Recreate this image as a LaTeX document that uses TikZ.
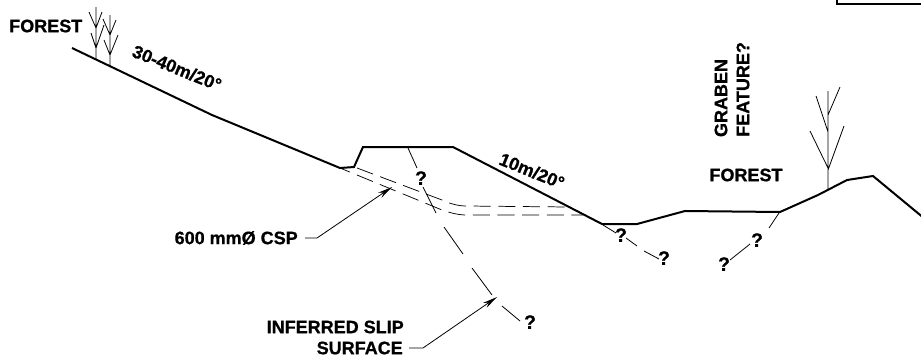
\documentclass[tikz,border=0pt]{standalone}
\usepackage{fontspec}
\setmainfont{Liberation Sans}[BoldFeatures={FakeBold=0.8}]
\usetikzlibrary{arrows.meta}
\begin{document}
\begin{tikzpicture}[x=0.75pt,y=-0.75pt,
  ground/.style={line width=1.5pt,line join=miter},
  thin line/.style={line width=0.6pt},
  pipe/.style={line width=0.55pt,dash pattern=on 12.8pt off 5.7pt},
  leader/.style={line width=0.6pt,-{Stealth[length=11pt,width=4.5pt]}},
  lbl/.style={font=\bfseries\fontsize{13.5}{15}\selectfont,inner sep=0pt,text=black},
  qm/.style={font=\bfseries\fontsize{14.5}{15}\selectfont,inner sep=0pt}]
\useasboundingbox (0,0) rectangle (921,358);
\clip (0,0) rectangle (921,358);
% ground
\draw[ground] (72,48) -- (212,115) -- (340,168) -- (354,167) -- (363,147) -- (453,147) -- (602,224) -- (637,224) -- (685,211) -- (780,212) -- (818,195) -- (847,180) -- (873,176) -- (925,219);
% title box corner
\draw[line width=0.8pt] (837,-5) -- (837,4) -- (925,4);
% trees
\draw[thin line] (96,60) -- (96,7) (89,12) -- (96,28) -- (102,12) (91,33) -- (96,48) -- (104,25);
\draw[thin line] (110,66) -- (110,15) (103,19) -- (110,35) -- (116,20) (104,40) -- (110,55) -- (118,35);
\draw[thin line] (828,190) -- (828,91) (828,115) -- (840,87) (828,132) -- (816,96) (828,168) -- (810,131) (828,170) -- (844,126);
% pipe
\draw[pipe] (357,168) -- (442,200) .. controls (451,204) and (458,206) .. (467,206) -- (569,207);
\draw[pipe,dash phase=4.7pt] (340,168) -- (442,210) .. controls (451,213) and (458,215) .. (467,215) -- (583,215);
% slip surface
\draw[thin line] (408,148) -- (417,168) (423,187) -- (436,213) (444,227) -- (463,254) (472,268) -- (492,295) (502,306) -- (520,321);
\draw[thin line] (603,225) -- (616,233) (626,238) -- (637,246) (644,251) -- (659,259);
\draw[thin line] (779,213) -- (769,228) (750,244) -- (730,260);
% labels
\node[lbl,anchor=west] (f1) at (9,26) {FOREST};
\node[lbl,rotate=-22,anchor=center] (s1) at (177,68) {30-40m/20°};
\node[lbl,rotate=-22,anchor=center] (s2) at (532,171) {10m/20°};
\node[lbl,anchor=east] (csp) at (298,238) {600 mmØ CSP};
\node[lbl,anchor=east] (slip1) at (404,327) {INFERRED SLIP};
\node[lbl,anchor=east] (slip2) at (403,348) {SURFACE};
\node[lbl,anchor=center] (f2) at (746,175) {FOREST};
\node[lbl,rotate=90,anchor=center] (g1) at (721,98) {GRABEN};
\node[lbl,rotate=90,anchor=west] (g2) at (743,137) {FEATURE?};
% question marks
\node[qm] (q1) at (421,178) {?};
\node[qm] (q2) at (621,235) {?};
\node[qm] (q3) at (664,258) {?};
\node[qm] (q4) at (757,240) {?};
\node[qm] (q5) at (724,264) {?};
\node[qm] (q6) at (530,322) {?};
% leaders
\coordinate (cspa) at (305,238);
\coordinate (cspb) at (317,238);
\coordinate (cspt) at (392,187);
\coordinate (slipa) at (409,348);
\coordinate (slipb) at (423,348);
\coordinate (slipt) at (497,297);
\draw[leader] (cspa) -- (cspb) -- (cspt);
\draw[leader] (slipa) -- (slipb) -- (slipt);
\end{tikzpicture}
\end{document}
